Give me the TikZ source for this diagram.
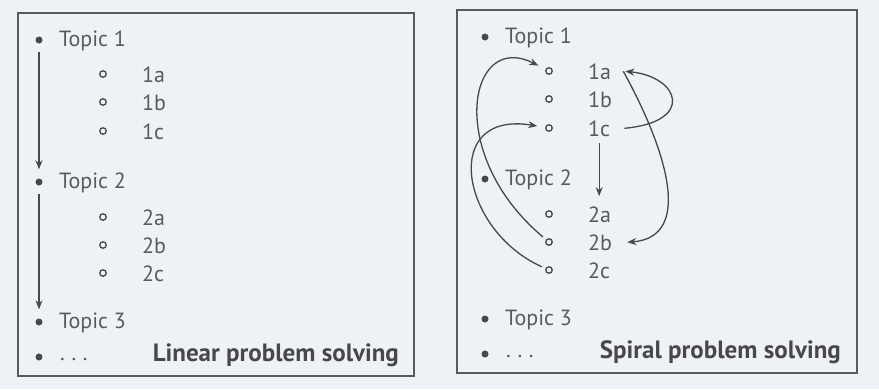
\documentclass[tikz,border=0pt]{standalone}
\usepackage{fontspec}
\setmainfont{PT Sans}
\usetikzlibrary{arrows.meta, positioning}
\definecolor{paper}{HTML}{EEF1F6}
\definecolor{ink}{HTML}{484848}
\tikzset{
  frame/.style={draw=ink!90, line width=1.2pt},
  dot/.style={circle, fill=ink, inner sep=0pt, minimum size=7pt},
  ring/.style={circle, draw=ink, line width=1.3pt, inner sep=0pt, minimum size=6.5pt},
  item/.style={anchor=base west, inner sep=0pt, text=ink!90, font=\fontsize{22}{25}\selectfont},
  title/.style={anchor=base east, inner sep=0pt, text=ink, font=\fontsize{25}{28}\selectfont\bfseries},
  arrow/.style={-{Stealth[length=9pt, width=7pt]}, line width=1.3pt, draw=ink}
}
\begin{document}
\begin{tikzpicture}[x=1pt, y=-1pt]
  \useasboundingbox[fill=paper] (0,0) rectangle (879,389);
  \draw[frame] (18,13) rectangle (414,376);
  \draw[frame] (457,10) rectangle (857,373);
  % the two lists
  \foreach \p/\dx/\dy in {l/0/0, r/446/-3}{
    \foreach \t/\y in {1/40, 2/182, 3/322}{
      \node[dot] (\p-dot\t) at (39+\dx, \y+\dy) {};
      \node[item] (\p-top\t) at (59+\dx, \y+\dy+6.5) {Topic \t};
    }
    \foreach \s/\y in {1a/74, 1b/102, 1c/131, 2a/217, 2b/245, 2c/273}{
      \node[ring] (\p-o\s) at (103+\dx, \y+\dy) {};
      \node[item] (\p-\s) at (142+\dx, \y+\dy+8) {\s};
    }
    \node[dot] (\p-dot4) at (39+\dx, 357+\dy) {};
    \node[item] (\p-more) at (60+\dx, 360+\dy) {.\hspace{0.3em}.\hspace{0.3em}.};
  }
  \node[title] (l-title) at (399,361) {Linear problem solving};
  \node[title] (r-title) at (841,358) {Spiral problem solving};
  % linear
  \draw[arrow, shorten <=8pt, shorten >=9pt] (l-dot1) -- (l-dot2);
  \draw[arrow, shorten <=8pt, shorten >=9pt] (l-dot2) -- (l-dot3);
  % spiral
  \draw[arrow, shorten <=7pt, shorten >=10pt] (r-1c.south) -- (r-1c.south |- r-2a.north);
  \draw[arrow] ([xshift=14pt]r-1c.east) .. controls (695,122) and (680,77) .. ([xshift=14pt]r-1a.east);
  \draw[arrow] ([xshift=12pt]r-1a.east) .. controls (665,147) and (695,237) .. ([xshift=15pt]r-2b.east);
  \draw[arrow, shorten <=4pt, shorten >=8pt] (r-o2b) .. controls (445,155) and (468,30) .. (r-o1a);
  \draw[arrow, shorten <=4pt, shorten >=8pt] (r-o2c) .. controls (460,230) and (440,110) .. (r-o1c);
\end{tikzpicture}
\end{document}
